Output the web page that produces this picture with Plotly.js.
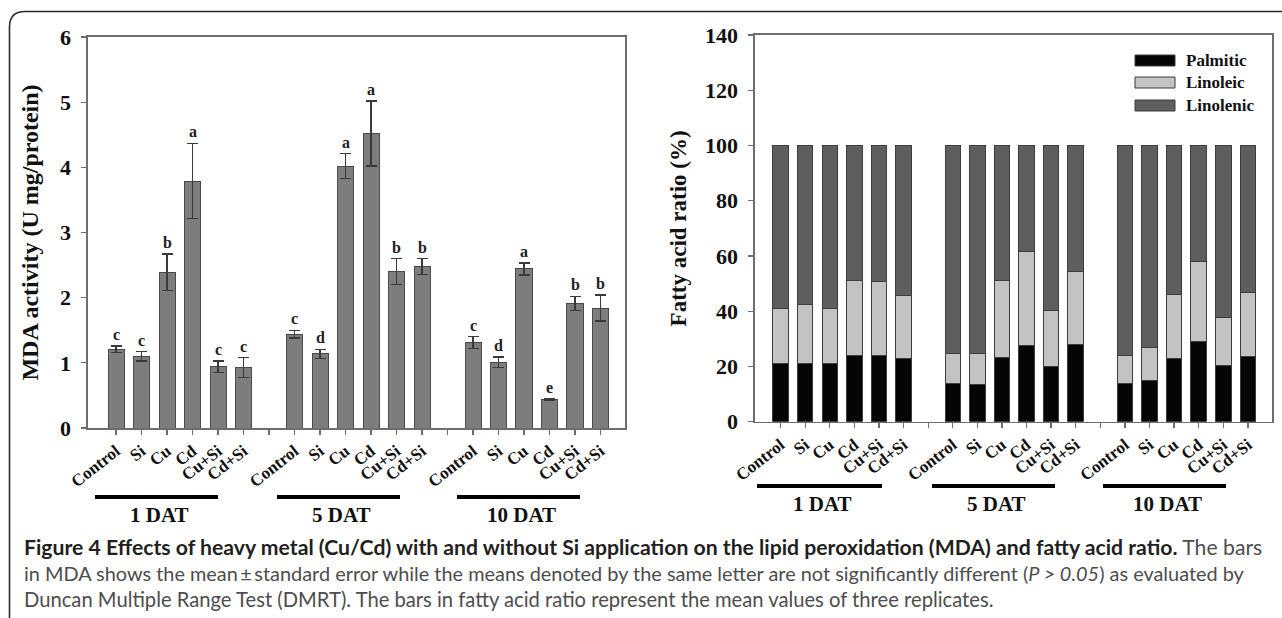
<!DOCTYPE html>
<html>
<head>
<meta charset="utf-8">
<script src="https://cdn.plot.ly/plotly-3.0.1.min.js"></script>
<style>
html,body{margin:0;padding:0;background:#fff;}
#chart{width:1282px;height:618px;}
</style>
</head>
<body>
<div id="chart"></div>
<script>
// ---- data ----
const groups = ['1 DAT', '5 DAT', '10 DAT'];
const treatments = ['Control', 'Si', 'Cu', 'Cd', 'Cu+Si', 'Cd+Si'];
// MDA activity (U mg/protein), per group x treatment
const mdaMean = [1.21, 1.10, 2.39, 3.79, 0.94, 0.93,
                 1.44, 1.14, 4.02, 4.52, 2.40, 2.48,
                 1.31, 1.01, 2.44, 0.44, 1.91, 1.84];
const mdaErr = [0.05, 0.07, 0.28, 0.58, 0.09, 0.15,
                0.06, 0.07, 0.19, 0.50, 0.20, 0.12,
                0.09, 0.08, 0.09, 0.01, 0.11, 0.20];
const mdaLetters = ['c', 'c', 'b', 'a', 'c', 'c',
                    'c', 'd', 'a', 'a', 'b', 'b',
                    'c', 'd', 'a', 'e', 'b', 'b'];
// Fatty acid ratio (%)
const palmitic = [21.0, 21.0, 21.0, 23.9, 23.9, 23.0,
                  13.7, 13.3, 23.4, 27.6, 20.0, 28.1,
                  13.7, 14.8, 22.8, 29.1, 20.5, 23.6];
const linoleic = [20.0, 21.4, 20.0, 27.4, 26.7, 22.6,
                  10.9, 11.3, 27.7, 34.0, 20.4, 26.2,
                  10.2, 11.9, 23.4, 28.9, 17.1, 23.3];
const linolenic = [59.0, 57.6, 59.0, 48.7, 49.4, 54.4,
                   75.4, 75.4, 48.9, 38.4, 59.6, 45.7,
                   76.1, 73.3, 53.8, 42.0, 62.4, 53.1];
const fattyNames = ['Palmitic', 'Linoleic', 'Linolenic'];
const leftTicks = [0, 1, 2, 3, 4, 5, 6];
const rightTicks = [0, 20, 40, 60, 80, 100, 120, 140];

// ---- layout helpers ----
const W = 1282, H = 618;
const px = x => x / W;
const py = y => 1 - y / H;
const slotsPerGroup = treatments.length + 1;
const xs = [];
const labels = [];
groups.forEach((g, gi) => treatments.forEach((t, ti) => { xs.push(gi * slotsPerGroup + ti); labels.push(t); }));
const nSlots = groups.length * slotsPerGroup - 1;
const tickvals = [], ticktext = [];
for (let s = 0; s < nSlots; s++) {
  tickvals.push(s);
  const idx = xs.indexOf(s);
  ticktext.push(idx >= 0 ? labels[idx] : '');
}

const SERIF = 'Liberation Serif, Times New Roman, serif';
const axisColor = '#6e6e6e';

const traces = [];
traces.push({
  type: 'bar', x: xs, y: mdaMean, xaxis: 'x', yaxis: 'y',
  width: 0.63,
  marker: {color: '#7d7d7d', line: {color: '#4a4a4a', width: 1}},
  error_y: {type: 'data', array: mdaErr, visible: true, color: '#3a3a3a', thickness: 1.3, width: 5.5},
  showlegend: false, hoverinfo: 'skip'
});
const fattyVals = [palmitic, linoleic, linolenic];
const fattyColors = ['#050505', '#c3c3c3', '#5e5e5e'];
fattyVals.forEach((vals, i) => {
  traces.push({
    type: 'bar', x: xs, y: vals, xaxis: 'x2', yaxis: 'y2', name: fattyNames[i],
    width: 0.63,
    marker: {color: fattyColors[i], line: {color: '#3c3c3c', width: 1}},
    showlegend: false, hoverinfo: 'skip'
  });
});

const annotations = [];
// significance letters
xs.forEach((x, i) => {
  annotations.push({
    x: x, y: mdaMean[i] + mdaErr[i], xref: 'x', yref: 'y',
    text: '<b>' + mdaLetters[i] + '</b>', showarrow: false,
    yanchor: 'bottom', yshift: 1,
    font: {family: SERIF, size: 16, color: '#222'}
  });
});

const shapes = [];
// group bars and labels
const leftGroupLines = [[95, 218, 497], [277, 400, 497], [457, 580, 497]];
const rightGroupLines = [[757, 882, 486], [932, 1055, 486], [1103, 1226, 486]];
[[leftGroupLines, 18], [rightGroupLines, 18]].forEach(([lines, dy]) => {
  lines.forEach((l, gi) => {
    shapes.push({type: 'line', xref: 'paper', yref: 'paper', x0: px(l[0]), x1: px(l[1]), y0: py(l[2]), y1: py(l[2]),
      line: {color: '#000', width: 4}});
    annotations.push({xref: 'paper', yref: 'paper', x: px((l[0] + l[1]) / 2 + 3), y: py(l[2] + dy),
      text: '<b>' + groups[gi] + '</b>', showarrow: false, xanchor: 'center', yanchor: 'middle',
      font: {family: SERIF, size: 21, color: '#111'}});
  });
});

// legend for fatty acids
const legY = [60.5, 82.5, 105.5];
fattyNames.forEach((n, i) => {
  shapes.push({type: 'rect', xref: 'paper', yref: 'paper', x0: px(1135), x1: px(1175), y0: py(legY[i] - 5.5), y1: py(legY[i] + 5.5),
    fillcolor: fattyColors[i], line: {color: '#3c3c3c', width: 1}});
  annotations.push({xref: 'paper', yref: 'paper', x: px(1184), y: py(legY[i]), text: '<b>' + n + '</b>',
    showarrow: false, xanchor: 'left', yanchor: 'middle', font: {family: SERIF, size: 17, color: '#111'}});
});

// figure frame (top + left with rounded corner)
shapes.push({type: 'path', xref: 'paper', yref: 'paper',
  path: `M ${px(9.5)},${py(620)} L ${px(9.5)},${py(27)} Q ${px(9.5)},${py(11.5)} ${px(25)},${py(11.5)} L ${px(1285)},${py(11.5)}`,
  line: {color: '#2a2a2a', width: 1.6}});

// caption
const CAP = 'Lato, Open Sans, sans-serif';
const captionLines = [
  '<span style="color:#231f20"><b>Figure 4 Effects of heavy metal (Cu/Cd) with and without Si application on the lipid peroxidation (MDA) and fatty acid ratio.</b></span> The bars',
  'in MDA shows the mean\u2009±\u2009standard error while the means denoted by the same letter are not significantly different (<i>P &gt; 0.05</i>) as evaluated by',
  'Duncan Multiple Range Test (DMRT). The bars in fatty acid ratio represent the mean values of three replicates.'
];
const captionY = [547, 573, 599];
const captionSize = [21.2, 19.9, 20.2];
captionLines.forEach((t, i) => {
  annotations.push({xref: 'paper', yref: 'paper', x: px(22), y: py(captionY[i]), text: t, showarrow: false,
    xanchor: 'left', yanchor: 'middle', font: {family: CAP, size: captionSize[i], color: '#4d4d4d'}});
});

const xCommon = {
  tickmode: 'array', tickvals: tickvals, ticktext: ticktext, tickangle: -38,
  ticks: 'outside', ticklen: 5, tickcolor: axisColor, tickwidth: 1.3,
  showline: true, linecolor: axisColor, linewidth: 1.6, mirror: true,
  showgrid: false, zeroline: false, fixedrange: true,
  tickfont: {family: SERIF, size: 17, color: '#111', weight: 'bold'}
};
const yCommon = {
  ticks: 'outside', ticklen: 5, tickcolor: axisColor, tickwidth: 1.3,
  showline: true, linecolor: axisColor, linewidth: 1.6, mirror: true,
  showgrid: false, zeroline: false, fixedrange: true,
  tickfont: {family: SERIF, size: 22, color: '#111', weight: 'bold'}, ticklabelstandoff: 6
};

const layout = {
  width: W, height: H,
  margin: {l: 0, r: 0, t: 0, b: 0},
  paper_bgcolor: '#fff', plot_bgcolor: '#fff',
  barmode: 'stack', bargap: 0,
  showlegend: false,
  xaxis: Object.assign({}, xCommon, {domain: [px(88), px(625)], range: [-1.1, 19.96], anchor: 'y'}),
  yaxis: Object.assign({}, yCommon, {domain: [py(428), py(37)], range: [0, 6], tickvals: leftTicks, anchor: 'x',
    title: {text: '<b>MDA activity (U mg/protein)</b>', font: {family: SERIF, size: 24, color: '#111'}, standoff: 14}}),
  xaxis2: Object.assign({}, xCommon, {domain: [px(755), px(1272)], range: [-1.04, 19.98], anchor: 'y2'}),
  yaxis2: Object.assign({}, yCommon, {domain: [py(421.7), py(35)], range: [0, 140], tickvals: rightTicks, anchor: 'x2',
    title: {text: '<b>Fatty acid ratio (%)</b>', font: {family: SERIF, size: 23, color: '#111'}, standoff: 12}}),
  shapes: shapes,
  annotations: annotations
};

Plotly.newPlot('chart', traces, layout, {displayModeBar: false, staticPlot: true});
</script>
</body>
</html>
